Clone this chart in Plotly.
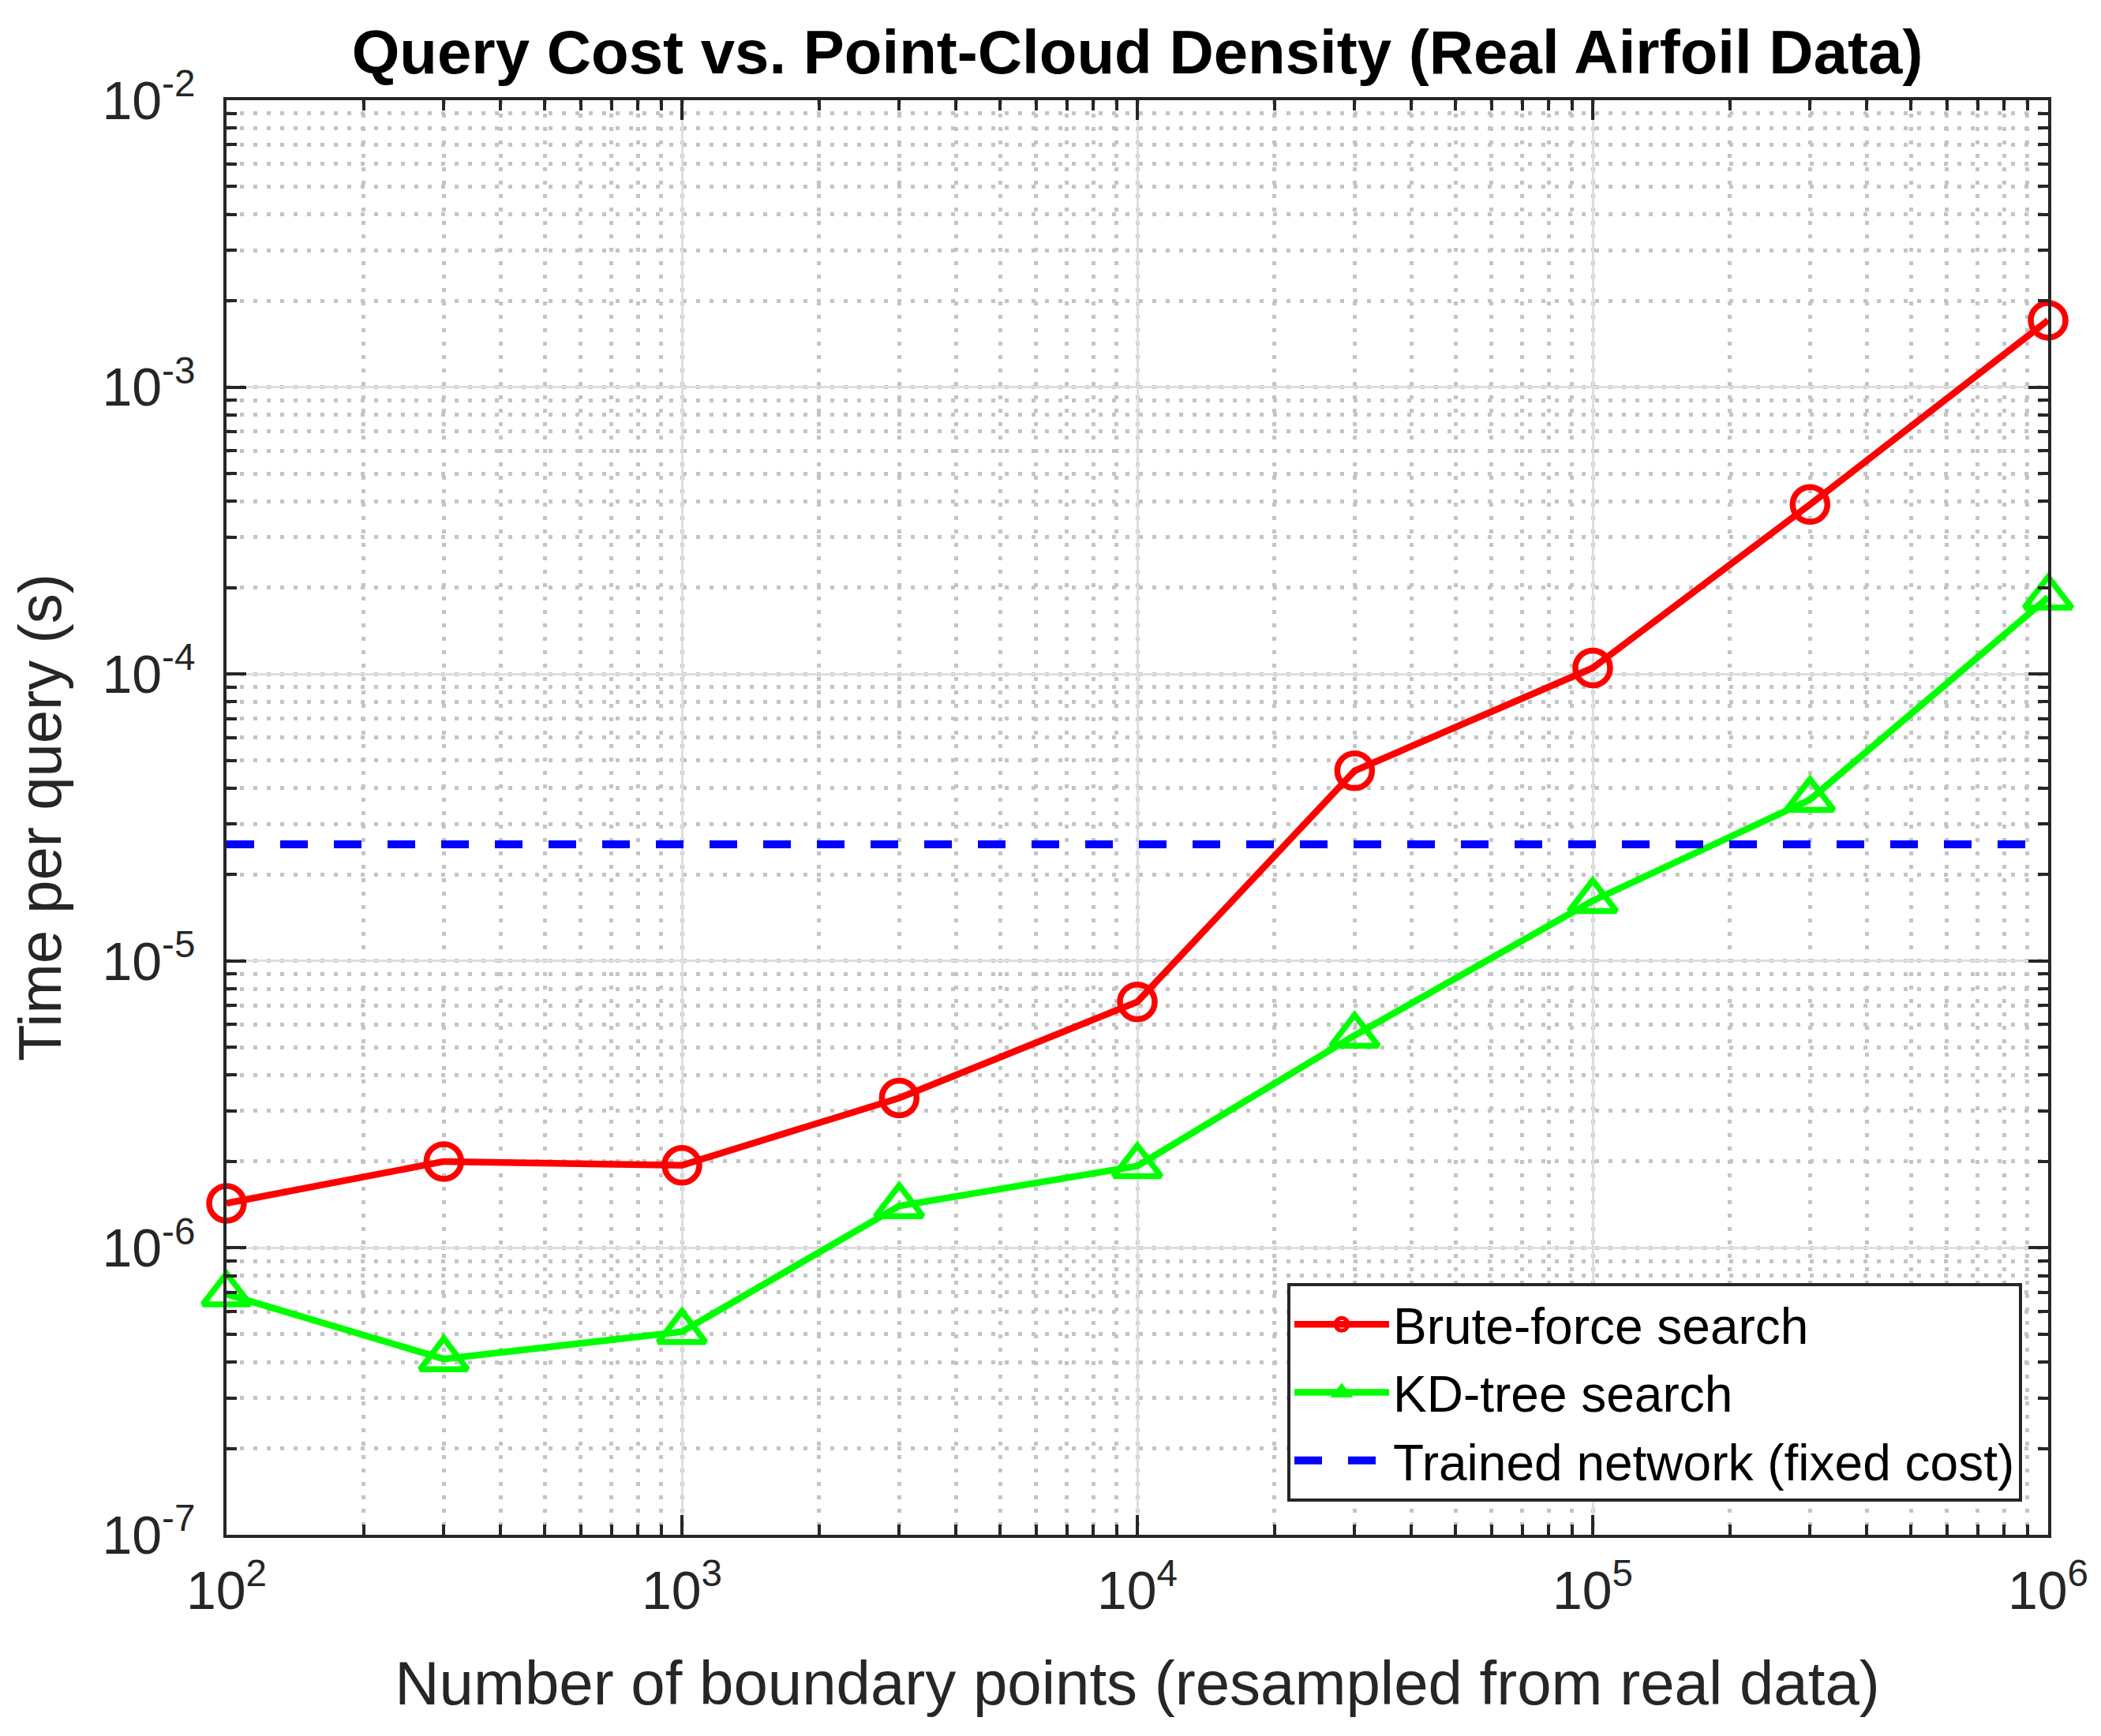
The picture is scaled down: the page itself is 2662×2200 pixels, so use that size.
import plotly.graph_objects as go

# ---- data ----
n_points = [1e2, 3e2, 1e3, 3e3, 1e4, 3e4, 1e5, 3e5, 1e6]
brute_force = [1.43e-6, 2.0e-6, 1.94e-6, 3.33e-6, 7.2e-6, 4.6e-5, 1.05e-4, 3.9e-4, 1.71e-3]
kd_tree = [6.9e-7, 4.1e-7, 5.1e-7, 1.40e-6, 1.93e-6, 5.5e-6, 1.62e-5, 3.65e-5, 1.85e-4]
network_x = [1e2, 1e6]
network_cost = [2.55e-5, 2.55e-5]

x_tickvals = [1e2, 1e3, 1e4, 1e5, 1e6]
x_ticktext = ["10<sup>2</sup>", "10<sup>3</sup>", "10<sup>4</sup>", "10<sup>5</sup>", "10<sup>6</sup>"]
y_tickvals = [1e-7, 1e-6, 1e-5, 1e-4, 1e-3, 1e-2]
y_ticktext = ["10<sup>-7</sup>", "10<sup>-6</sup>", "10<sup>-5</sup>", "10<sup>-4</sup>", "10<sup>-3</sup>", "10<sup>-2</sup>"]

title_text = "<b>Query Cost vs. Point-Cloud Density (Real Airfoil Data)</b>"
x_title = "Number of boundary points (resampled from real data)"
y_title = "Time per query (s)"

FONT = "Liberation Sans, Arial, Helvetica, sans-serif"
AX = "#262626"

fig = go.Figure()
fig.add_trace(go.Scatter(
    x=n_points, y=brute_force, name="Brute-force search", mode="lines+markers",
    line=dict(color="#FF0000", width=8.5), cliponaxis=False,
    marker=dict(symbol="circle-open", size=44, color="#FF0000", line=dict(width=7.5, color="#FF0000")),
))
fig.add_trace(go.Scatter(
    x=n_points, y=kd_tree, name="KD-tree search", mode="lines+markers",
    line=dict(color="#00FF00", width=8.5), cliponaxis=False,
    marker=dict(symbol="triangle-up-open", size=52, color="#00FF00", line=dict(width=7.5, color="#00FF00")),
))
fig.add_trace(go.Scatter(
    x=network_x, y=network_cost, name="Trained network (fixed cost)", mode="lines",
    line=dict(color="#0000FF", width=10, dash="35px,33px"),
))

axis_common = dict(
    type="log",
    showline=True, linecolor=AX, linewidth=4, mirror="ticks",
    ticks="inside", ticklen=25, tickwidth=4, tickcolor=AX,
    showgrid=True, gridcolor="#dedede", gridwidth=3,
    zeroline=False,
    tickfont=dict(family=FONT, size=68, color=AX),
    minor=dict(dtick="D1", ticks="inside", ticklen=13, tickwidth=4, tickcolor=AX,
               showgrid=True, gridcolor="#c4c4c4", gridwidth=5, griddash="5px,12px"),
)

fig.update_xaxes(**axis_common, range=[2, 6], tickmode="array",
                 tickvals=x_tickvals, ticktext=x_ticktext, ticklabelstandoff=8,
                 title=dict(text=x_title, font=dict(family=FONT, size=78, color=AX), standoff=55))
fig.update_yaxes(**axis_common, range=[-7, -2], tickmode="array",
                 tickvals=y_tickvals, ticktext=y_ticktext, ticklabelstandoff=22,
                 title=dict(text=y_title, font=dict(family=FONT, size=76, color=AX), standoff=30))

fig.update_layout(
    width=2662, height=2200,
    margin=dict(l=279, r=75, t=119, b=263),
    paper_bgcolor="white", plot_bgcolor="white",
    title=dict(text=title_text, x=0.5, xanchor="center", xref="paper", y=0.974, yanchor="middle",
               font=dict(family=FONT, size=78, color="black")),
    legend=dict(x=0.9857, xanchor="right", y=0.023, yanchor="bottom",
                bgcolor="white", bordercolor=AX, borderwidth=4,
                font=dict(family=FONT, size=64, color="black"),
                itemwidth=120, tracegroupgap=14),
    showlegend=True,
)

fig.write_html("out.html")
